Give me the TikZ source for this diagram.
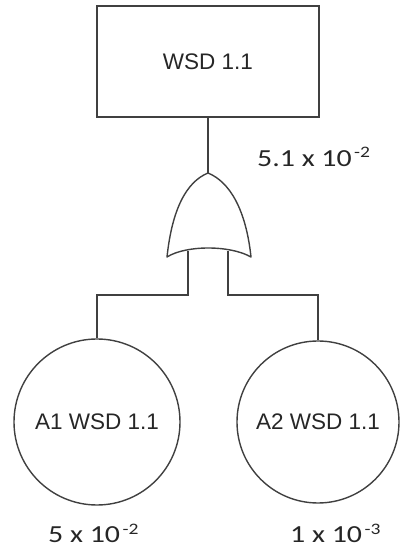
\documentclass[tikz,border=0pt]{standalone}
\usepackage{fontspec}
\setmainfont{Liberation Sans}
\newfontfamily\numfont{Carlito}
\newcommand{\probtxt}[2]{\scalebox{1.22}[1]{#1\kern2pt\raisebox{9pt}{\fontsize{16}{16}\selectfont #2}}}
\begin{document}
\begin{tikzpicture}[x=1pt,y=1pt,
  line/.style={draw=black!75,line width=1.4pt},
  evbox/.style={line,rectangle,minimum width=222pt,minimum height=111pt,inner sep=0pt,font=\fontsize{22.5}{24}\selectfont,text=black!85},
  basic/.style={line,circle,minimum size=#1,inner sep=0pt,font=\fontsize{22.5}{24}\selectfont,text=black!85},
  prob/.style={inner sep=0pt,anchor=base west,font=\numfont\fontsize{24.5}{26}\selectfont,text=black!85}]
\useasboundingbox (0,0) rectangle (400,550);
\node[evbox] (top) at (208,488.5) {WSD 1.1};
\coordinate (gtip) at (208,377);
\coordinate (gin1) at (188,299);
\coordinate (gin2) at (228,299);
\draw[line,line join=round] (167,293) .. controls (172,340) and (186,368) .. (gtip)
  .. controls (230,368) and (246,340) .. (251,293)
  .. controls (230,305) and (186,305) .. (167,293) -- cycle;
\node[basic=166pt] (a1) at (97,128) {A1 WSD 1.1};
\node[basic=162pt] (a2) at (318,128) {A2 WSD 1.1};
\draw[line] (top.south) -- (gtip);
\draw[line] (gin1) |- (a1.north |- 0,255) -- (a1.north);
\draw[line] (gin2) |- (a2.north |- 0,255) -- (a2.north);
\node[prob] (p0) at (257,383) {\probtxt{5.1 x 10}{-2}};
\node[prob] (p1) at (48,7) {\probtxt{5 x 10}{-2}};
\node[prob] (p2) at (290,7) {\probtxt{1 x 10}{-3}};
\end{tikzpicture}
\end{document}
